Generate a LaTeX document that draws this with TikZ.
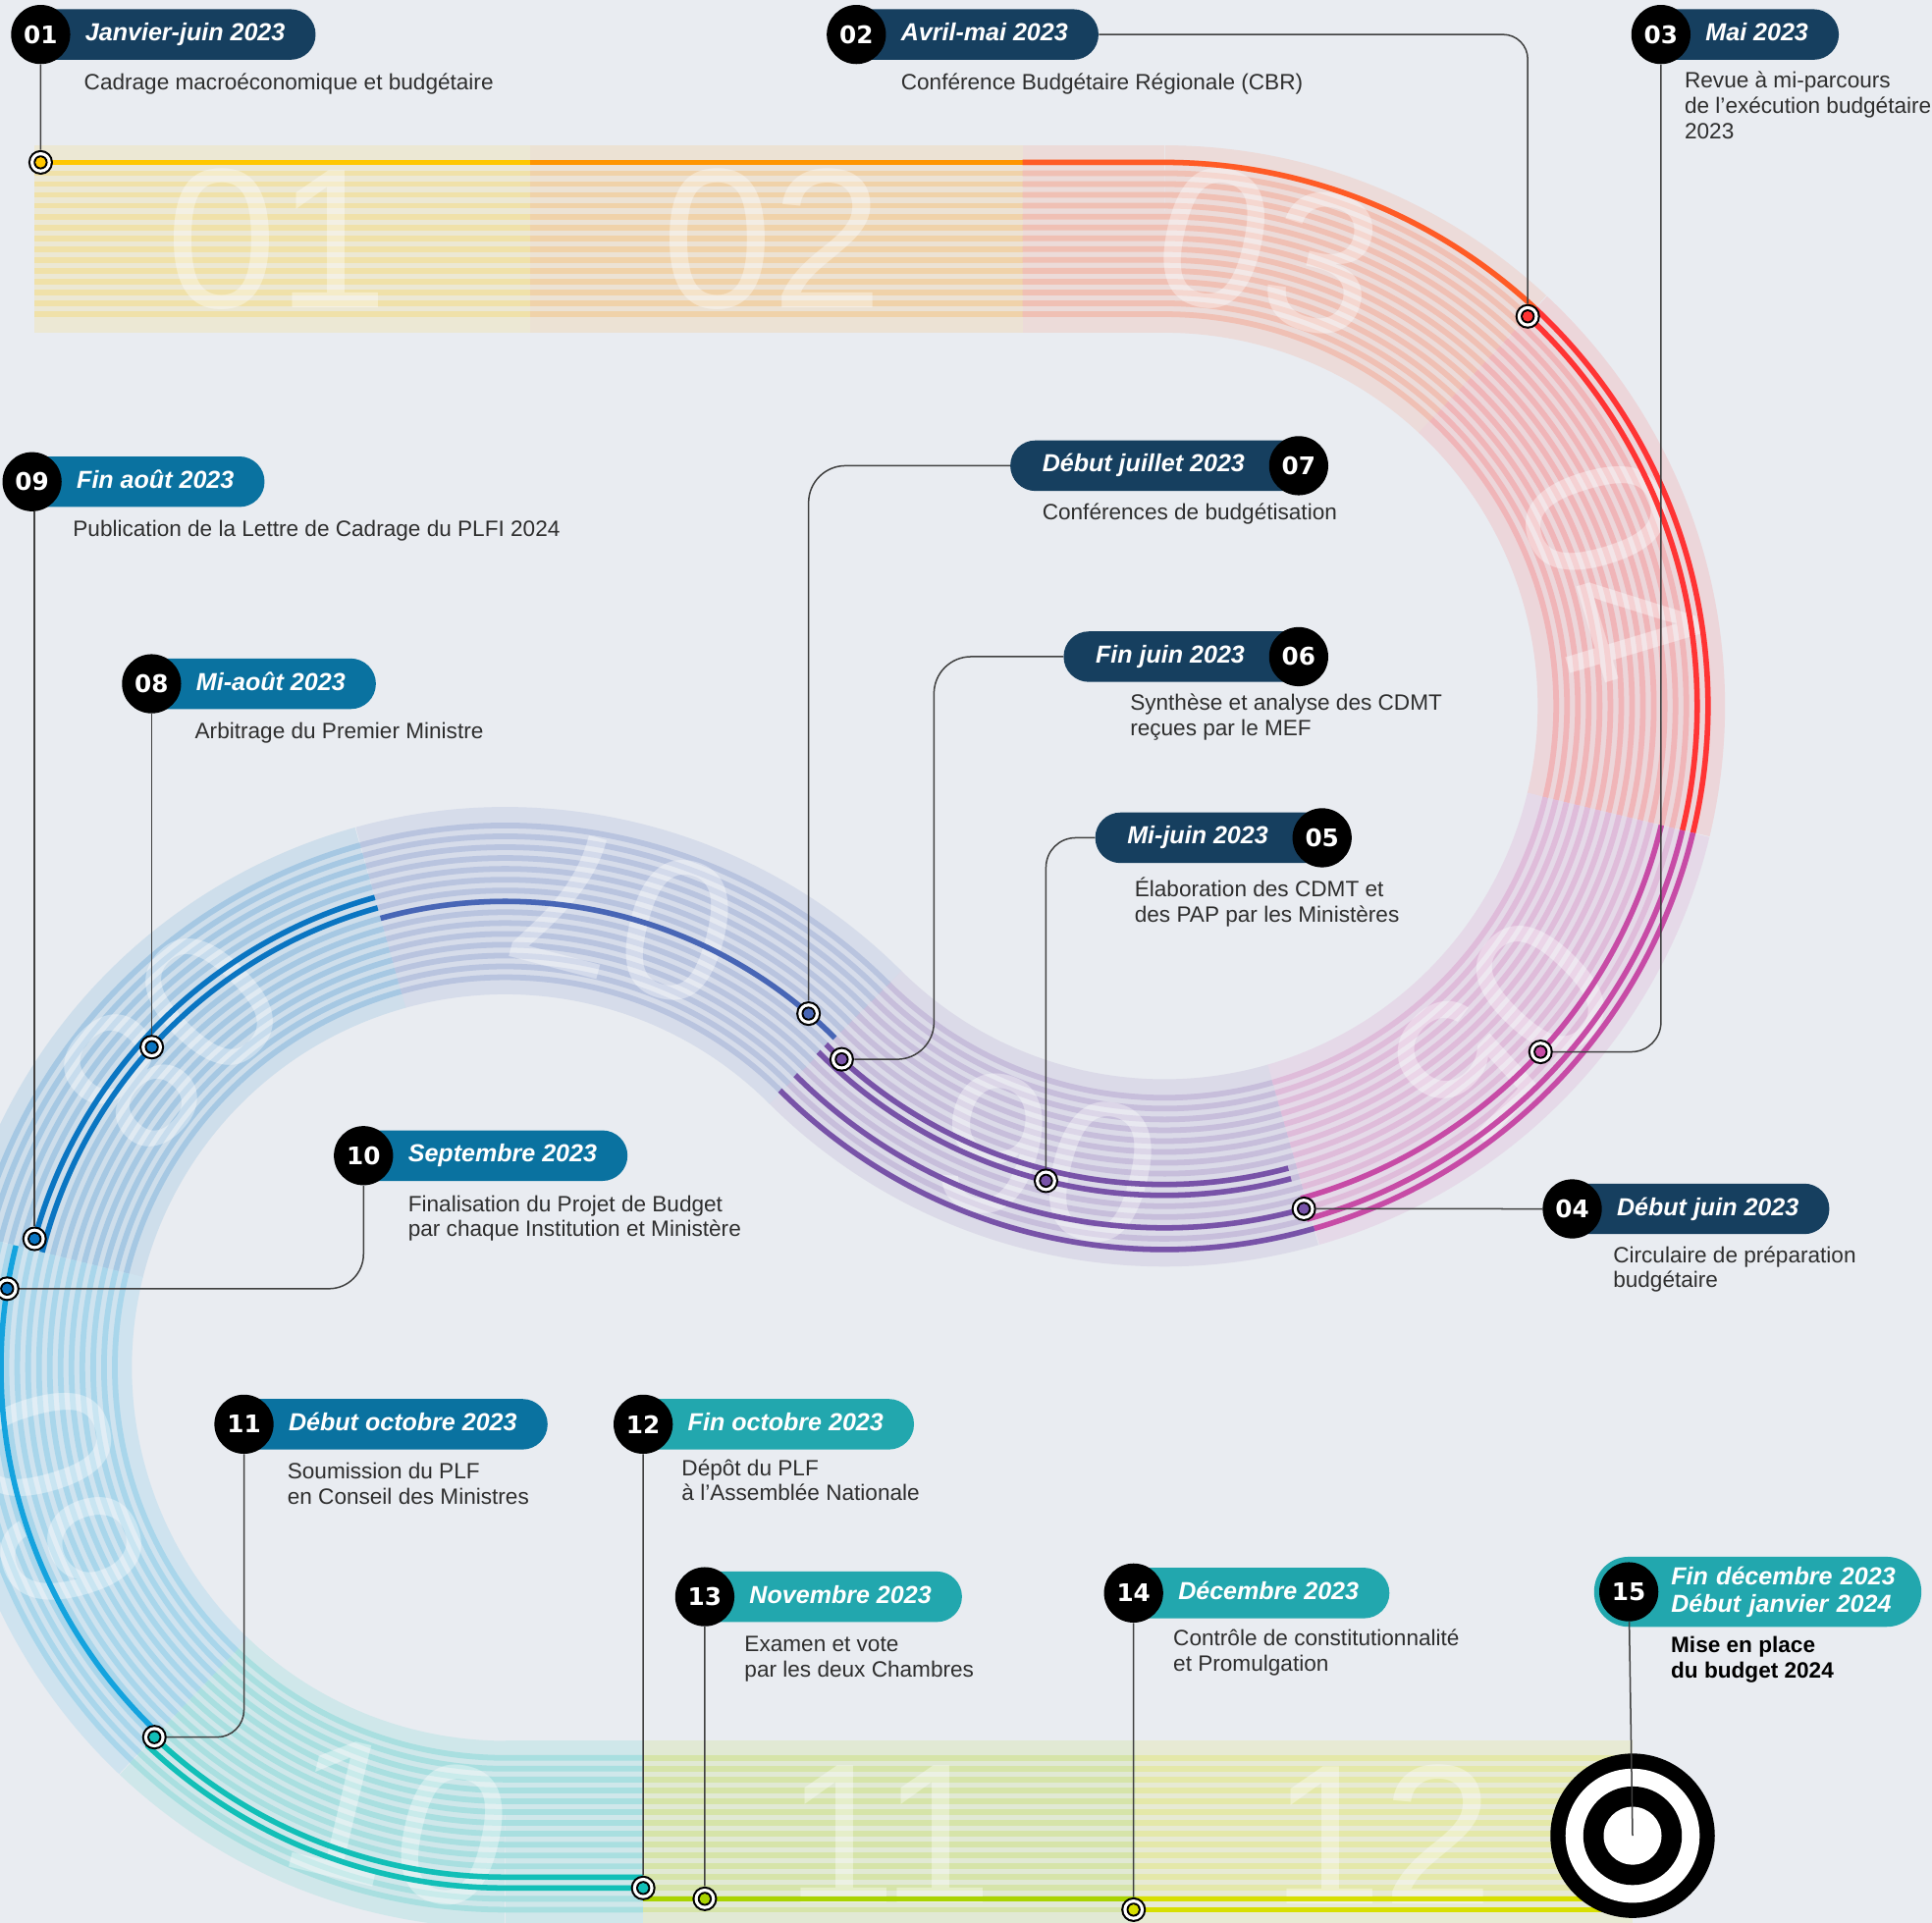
\documentclass[tikz,border=0pt]{standalone}
\usepackage{fontspec}
\setmainfont{Liberation Sans}
\newfontfamily\numfont{DejaVu Sans}
\usetikzlibrary{positioning}

\definecolor{bgc}{HTML}{E9ECF1}
\definecolor{navy}{HTML}{163F5F}
\definecolor{pblue}{HTML}{0A72A0}
\definecolor{pteal}{HTML}{22A7AE}
\definecolor{txt}{HTML}{2E2E2E}
\definecolor{linec}{HTML}{404040}
\definecolor{c01}{HTML}{FFC700}
\definecolor{c02}{HTML}{FF9500}
\definecolor{c03}{HTML}{FF5B26}
\definecolor{c04}{HTML}{FF3434}
\definecolor{c05}{HTML}{C74BA6}
\definecolor{c06}{HTML}{7853A8}
\definecolor{c07}{HTML}{4866B6}
\definecolor{c08}{HTML}{0A75C2}
\definecolor{c09}{HTML}{14A3DE}
\definecolor{c10}{HTML}{12BFB7}
\definecolor{c11}{HTML}{A9D300}
\definecolor{c12}{HTML}{D7DF00}

\newcommand\pillfont{\fontsize{14.2}{16}\selectfont\bfseries\itshape}
\newcommand\descfont{\fontsize{12.8}{14.6}\selectfont}
% arcs of the two loops, #1 = offset from the outer side of the track
\newcommand\rarc[3]{(945,573) ++(#2:{455-#1}) arc[start angle=#2, end angle=#3, radius={455-#1}]}
\newcommand\larc[3]{(410,1110) ++(#2:{303+#1}) arc[start angle=#2, end angle=#3, radius={303+#1}]}
\newcommand\pl[1]{\rule{1.4125cm}{0pt}#1\rule{0.62cm}{0pt}}
\newcommand\pr[1]{\rule{0.65cm}{0pt}#1\rule{1.6cm}{0pt}}

\begin{document}
\begin{tikzpicture}[x=0.025cm, y=-0.025cm,
  band/.style={draw=#1!12!bgc, line width=3.8cm},
  stripe/.style={draw=#1!30!bgc, line width=0.115cm},
  track/.style={draw=#1, line width=0.11cm},
  ghost/.style={text=white, text opacity=0.38, inner sep=0pt, font=\fontsize{115}{115}\selectfont},
  marker/.style={circle, fill=black, minimum size=0.5cm, inner sep=0pt,
    path picture={\fill[white] (path picture bounding box.center) circle (0.2075cm);
      \fill[black] (path picture bounding box.center) circle (0.1425cm);
      \fill[#1] (path picture bounding box.center) circle (0.105cm);}},
  goal/.style={circle, fill=black, minimum size=3.335cm, inner sep=0pt,
    path picture={\fill[white] (path picture bounding box.center) circle (1.36cm);
      \fill[black] (path picture bounding box.center) circle (1.0cm);
      \fill[white] (path picture bounding box.center) circle (0.5875cm);}},
  num/.style={circle, fill=black, minimum size=1.2cm, inner sep=0pt, text=white,
    font=\numfont\bfseries\fontsize{14}{14}\selectfont},
  pill/.style={fill=#1, text=white, font=\pillfont, rounded corners=0.51cm,
    minimum height=1.025cm, inner sep=0pt, text height=0.36cm, text depth=0.1cm},
  wide pill/.style={fill=pteal, text=white, font=\pillfont, rounded corners=0.7cm,
    minimum height=1.42cm, inner sep=0pt, text width=6.6375cm, align=left},
  desc/.style={anchor=north west, align=left, inner sep=0pt, text=txt, font=\descfont,
    execute at begin node=\strut},
  link/.style={draw=linec, line width=0.85pt}]

  \useasboundingbox (0,0) rectangle (1568,1560.8);
  \fill[bgc] (0,0) rectangle (1568,1560.8);
  \clip (0,0) rectangle (1568,1560.8);

  % months along the track
  \fill[c01!12!bgc] (28,118) rectangle (430,270);
  \fill[c02!12!bgc] (430,118) rectangle (830,270);
  \fill[c03!12!bgc] (830,118) rectangle (945,270);
  \draw[band=c03] \rarc{76}{-90}{-47};
  \draw[band=c04] \rarc{76}{-47}{13.5};
  \draw[band=c05] \rarc{76}{13.5}{74};
  \draw[band=c06] \rarc{76}{74}{135};
  \draw[band=c07] \larc{76}{-45}{-105.5};
  \draw[band=c08] \larc{76}{-105.5}{-166};
  \draw[band=c09] \larc{76}{-166}{-226.5};
  \draw[band=c10] \larc{76}{-226.5}{-270};
  \fill[c10!12!bgc] (410,1413) rectangle (522,1565);
  \fill[c11!12!bgc] (522,1413) rectangle (922,1565);
  \fill[c12!12!bgc] (922,1413) rectangle (1325,1565);

  \foreach \kk [evaluate=\kk as \off using 13.8+8.8*\kk] in {0,...,14}{
    \draw[stripe=c01] (28,118+\off) -- (430,118+\off);
    \draw[stripe=c02] (430,118+\off) -- (830,118+\off);
    \draw[stripe=c03] (830,118+\off) -- (945,118+\off) arc[start angle=-90, end angle=-47, radius={455-\off}];
    \draw[stripe=c04] \rarc{\off}{-47}{13.5};
    \draw[stripe=c05] \rarc{\off}{13.5}{74};
    \draw[stripe=c06] \rarc{\off}{74}{135};
    \draw[stripe=c07] \larc{\off}{-45}{-105.5};
    \draw[stripe=c08] \larc{\off}{-105.5}{-166};
    \draw[stripe=c09] \larc{\off}{-166}{-226.5};
    \draw[stripe=c10] \larc{\off}{-226.5}{-270} -- (522,1413+\off);
    \draw[stripe=c11] (522,1413+\off) -- (922,1413+\off);
    \draw[stripe=c12] (922,1413+\off) -- (1325,1413+\off);
  }

  \node[ghost] (g01) at (225,194) {01};
  \node[ghost] (g02) at (627,194) {02};
  \node[ghost, rotate=-12.9] (g03) at ([shift={(-77.1:379)}]945,573) {03};
  \node[ghost, rotate=-73.25] (g04) at ([shift={(-16.75:379)}]945,573) {04};
  \node[ghost, rotate=-133.75] (g05) at ([shift={(43.75:379)}]945,573) {05};
  \node[ghost, rotate=-194.5] (g06) at ([shift={(104.5:379)}]945,573) {06};
  \node[ghost, rotate=165.25] (g07) at ([shift={(-75.25:379)}]410,1110) {07};
  \node[ghost, rotate=225.75] (g08) at ([shift={(-135.75:379)}]410,1110) {08};
  \node[ghost, rotate=286.25] (g09) at ([shift={(-196.25:379)}]410,1110) {09};
  \node[ghost, rotate=-13.3] (g10) at ([shift={(103.3:379)}]410,1110) {10};
  \node[ghost] (g11) at (722,1489) {11};
  \node[ghost] (g12) at (1122,1489) {12};

  % coloured lines
  \draw[track=c01] (33,131.8) -- (430,131.8);
  \draw[track=c02] (430,131.8) -- (830,131.8);
  \draw[track=c03] (830,131.8) -- (945,131.8) arc[start angle=-90, end angle=-47, radius=441.2];
  \draw[track=c04] \rarc{13.8}{-47}{13.5} \rarc{22.6}{-47}{13.5};
  \draw[track=c05] \rarc{13.8}{13.5}{74} \rarc{22.6}{13.5}{74.5} \rarc{40.2}{13.5}{74.5};
  \draw[track=c06] \rarc{13.8}{74}{135} \rarc{31.4}{74.5}{135} \rarc{57.8}{75}{135} \rarc{66.6}{75}{135};
  \draw[track=c07] \larc{75.4}{-45}{-105.5};
  \draw[track=c08] \larc{84.2}{-105.5}{-166} \larc{93}{-105.5}{-164.7};
  \draw[track=c09] \larc{106.2}{-166}{-226.5};
  \draw[track=c10] \larc{110.6}{-226.5}{-270} -- (522,1523.6) \larc{119.4}{-226.5}{-270} -- (522,1532.4);
  \draw[track=c11] (522,1541.2) -- (922,1541.2);
  \draw[track=c12] (922,1541.2) -- (1300,1541.2) (920,1550) -- (1300,1550);

  % stops
  \node[marker=c01] (m01) at (33,131.8) {};
  \node[marker=c04] (m02) at ([shift={(-47:432.4)}]945,573) {};
  \node[marker=c05] (m03) at ([shift={(42.6:414.8)}]945,573) {};
  \node[marker=c06] (m04) at ([shift={(74.5:423.6)}]945,573) {};
  \node[marker=c06] (m05) at ([shift={(104:397.2)}]945,573) {};
  \node[marker=c06] (m06) at ([shift={(132.4:388.4)}]945,573) {};
  \node[marker=c07] (m07) at ([shift={(-49.4:378.4)}]410,1110) {};
  \node[marker=c08] (m08) at ([shift={(-137.8:387.2)}]410,1110) {};
  \node[marker=c08] (m09) at ([shift={(-164.7:396)}]410,1110) {};
  \node[marker=c08] (m10) at ([shift={(-171:409.2)}]410,1110) {};
  \node[marker=c10] (m11) at ([shift={(133.5:413.6)}]410,1110) {};
  \node[marker=c10] (m12) at (522,1532.4) {};
  \node[marker=c11] (m13) at (572,1541.2) {};
  \node[marker=c12] (m14) at (920,1550) {};
  \node[goal] (goal) at (1325,1490) {};

  % labels
  \node[pill=navy, anchor=west] (p01) at (12.5,28) {\pl{Janvier-juin 2023}};
  \node[num] (n01) at ([xshift=0.5125cm]p01.west) {01};
  \node[desc] (t01) at ([xshift=0.875cm, yshift=-0.75cm]n01.center) {Cadrage macroéconomique et budgétaire};

  \node[pill=navy, anchor=west] (p02) at (674.5,28) {\pl{Avril-mai 2023}};
  \node[num] (n02) at ([xshift=0.5125cm]p02.west) {02};
  \node[desc] (t02) at ([xshift=0.9cm, yshift=-0.75cm]n02.center) {Conférence Budgétaire Régionale (CBR)};

  \node[pill=navy, anchor=west] (p03) at (1327.5,28) {\pl{Mai 2023}};
  \node[num] (n03) at ([xshift=0.5125cm]p03.west) {03};
  \node[desc] (t03) at ([xshift=0.475cm, yshift=-0.75cm]n03.center) {Revue à mi-parcours\\de l'exécution budgétaire\\2023};

  \node[pill=navy, anchor=west] (p04) at (1255.5,981.2) {\pl{Début juin 2023}};
  \node[num] (n04) at ([xshift=0.5125cm]p04.west) {04};
  \node[desc] (t04) at ([xshift=0.825cm, yshift=-0.75cm]n04.center) {Circulaire de préparation\\budgétaire};

  \node[pill=navy, anchor=east] (p05) at (1093.5,680) {\pr{Mi-juin 2023}};
  \node[num] (n05) at ([xshift=-0.5125cm]p05.east) {05};
  \node[desc] (t05) at ([xshift=0.8cm, yshift=-0.8cm]p05.west) {Élaboration des CDMT et\\des PAP par les Ministères};

  \node[pill=navy, anchor=east] (p06) at (1074.5,533) {\pr{Fin juin 2023}};
  \node[num] (n06) at ([xshift=-0.5125cm]p06.east) {06};
  \node[desc] (t06) at ([xshift=1.35cm, yshift=-0.75cm]p06.west) {Synthèse et analyse des CDMT\\reçues par le MEF};

  \node[pill=navy, anchor=east] (p07) at (1074.5,378) {\pr{Début juillet 2023}};
  \node[num] (n07) at ([xshift=-0.5125cm]p07.east) {07};
  \node[desc] (t07) at ([xshift=0.65cm, yshift=-0.725cm]p07.west) {Conférences de budgétisation};

  \node[pill=pblue, anchor=west] (p08) at (102.5,555) {\pl{Mi-août 2023}};
  \node[num] (n08) at ([xshift=0.5125cm]p08.west) {08};
  \node[desc] (t08) at ([xshift=0.875cm, yshift=-0.75cm]n08.center) {Arbitrage du Premier Ministre};

  \node[pill=pblue, anchor=west] (p09) at (5.5,391) {\pl{Fin août 2023}};
  \node[num] (n09) at ([xshift=0.5125cm]p09.west) {09};
  \node[desc] (t09) at ([xshift=0.825cm, yshift=-0.75cm]n09.center) {Publication de la Lettre de Cadrage du PLFI 2024};

  \node[pill=pblue, anchor=west] (p10) at (274.5,938) {\pl{Septembre 2023}};
  \node[num] (n10) at ([xshift=0.5125cm]p10.west) {10};
  \node[desc] (t10) at ([xshift=0.9cm, yshift=-0.8cm]n10.center) {Finalisation du Projet de Budget\\par chaque Institution et Ministère};

  \node[pill=pblue, anchor=west] (p11) at (177.5,1156) {\pl{Début octobre 2023}};
  \node[num] (n11) at ([xshift=0.5125cm]p11.west) {11};
  \node[desc] (t11) at ([xshift=0.875cm, yshift=-0.775cm]n11.center) {Soumission du PLF\\en Conseil des Ministres};

  \node[pill=pteal, anchor=west] (p12) at (501.5,1156) {\pl{Fin octobre 2023}};
  \node[num] (n12) at ([xshift=0.5125cm]p12.west) {12};
  \node[desc] (t12) at ([xshift=0.775cm, yshift=-0.7cm]n12.center) {Dépôt du PLF\\à l'Assemblée Nationale};

  \node[pill=pteal, anchor=west] (p13) at (551.5,1296) {\pl{Novembre 2023}};
  \node[num] (n13) at ([xshift=0.5125cm]p13.west) {13};
  \node[desc] (t13) at ([xshift=0.8cm, yshift=-0.8cm]n13.center) {Examen et vote\\par les deux Chambres};

  \node[pill=pteal, anchor=west] (p14) at (899.5,1293) {\pl{Décembre 2023}};
  \node[num] (n14) at ([xshift=0.5125cm]p14.west) {14};
  \node[desc] (t14) at ([xshift=0.8cm, yshift=-0.725cm]n14.center) {Contrôle de constitutionnalité\\et Promulgation};

  \node[wide pill, anchor=west] (p15) at (1293.5,1292) {\hspace*{1.5625cm}Fin décembre 2023\\\hspace*{1.5625cm}Début janvier 2024};
  \node[num] (n15) at ([xshift=0.71cm]p15.west) {15};
  \node[desc, font=\descfont\bfseries, text=black] (t15) at ([xshift=0.85cm, yshift=-0.9cm]n15.center) {Mise en place\\du budget 2024};

  % links
  \coordinate (c06) at (758,700);
  \draw[link] (n01) -- (m01);
  \draw[link, rounded corners=0.5cm] (p02.east) -| (m02);
  \draw[link, rounded corners=0.6cm] (n03) |- (m03);
  \draw[link] (n04) -- (m04);
  \draw[link, rounded corners=0.6cm] (p05.west) -| (m05);
  \draw[link, rounded corners=0.75cm] (p06.west) -| (c06 |- m06) -- (m06);
  \draw[link, rounded corners=0.75cm] (p07.west) -| (m07);
  \draw[link] (m08 |- n08.south) -- (m08);
  \draw[link] (m09 |- n09.south) -- (m09);
  \draw[link, rounded corners=0.7cm] (n10) |- (m10);
  \draw[link, rounded corners=0.55cm] (n11) |- (m11);
  \draw[link] (n12) -- (m12);
  \draw[link] (n13) -- (m13);
  \draw[link] (n14) -- (m14);
  \draw[link] (n15) -- (goal.center);
\end{tikzpicture}
\end{document}
